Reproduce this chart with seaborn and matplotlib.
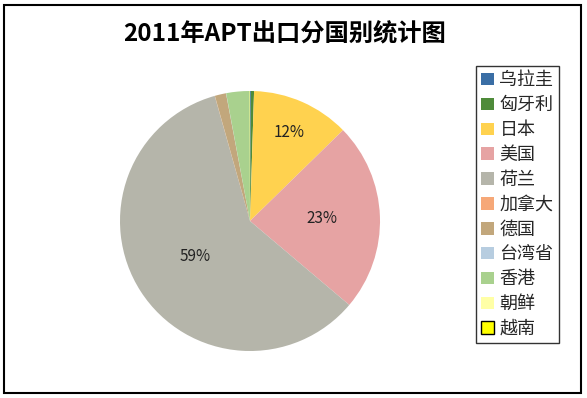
import matplotlib
matplotlib.use("Agg")
import matplotlib.pyplot as plt
import seaborn as sns
import numpy as np
from matplotlib.patches import Rectangle, Patch

# 2011 APT exports by destination (percent share)
countries = ["乌拉圭", "匈牙利", "日本", "美国", "荷兰", "加拿大", "德国", "台湾省", "香港", "朝鲜", "越南"]
shares = [0.1, 0.4, 12.2, 23.5, 59.5, 0.02, 1.4, 0.02, 2.9, 0.02, 0.02]
colors = ["#3A6EA5", "#4E8B3A", "#FFD24F", "#E6A3A3", "#B5B5AA", "#F6A878",
          "#C2A77C", "#B7CDE0", "#A9D18E", "#FFFFA6", "#FFFF00"]
label_dist = [0, 0, 0.74, 0.55, 0.50, 0, 0, 0, 0, 0, 0]

sns.set_theme(style="white")
plt.rcParams["font.family"] = ["Noto Sans CJK SC", "DejaVu Sans"]

W, H = 587, 398
fig = plt.figure(figsize=(W / 100, H / 100), dpi=100)
fig.patch.set_facecolor("white")

# pie centred at (250, 221) px, radius 130 px
cx, cy, r = 250, 221, 130
ax = fig.add_axes([(cx - r) / W, (H - cy - r) / H, 2 * r / W, 2 * r / H])
palette = sns.color_palette(colors)
wedges, texts, autotexts = ax.pie(
    shares, colors=palette, startangle=90, counterclock=False,
    autopct=lambda p: f"{p:.0f}%" if p >= 5 else "",
    pctdistance=0.6, textprops={"fontsize": 11, "color": "#222222", "fontweight": "light"},
    wedgeprops={"linewidth": 0},
)
for w, t, d in zip(wedges, autotexts, label_dist):
    if d:
        ang = np.deg2rad((w.theta1 + w.theta2) / 2)
        t.set_position((d * np.cos(ang), d * np.sin(ang)))
ax.set_xlim(-1, 1)
ax.set_ylim(-1, 1)
ax.axis("off")

fig.text(285 / W, 1 - 33 / H, "2011年APT出口分国别统计图", ha="center", va="center",
         fontsize=17.5, fontweight="bold", color="black")

handles = []
for c, col in zip(countries, palette):
    edge = "black" if c == "越南" else col
    handles.append(Patch(facecolor=col, edgecolor=edge, linewidth=1 if c == "越南" else 0, label=c))
leg = fig.legend(handles=handles, loc="upper left", bbox_to_anchor=(476 / W, 1 - 66 / H),
                 fontsize=13, frameon=True, fancybox=False, handlelength=0.7, handleheight=0.7,
                 handletextpad=0.3, labelspacing=0.38, borderpad=0.3, borderaxespad=0)
leg.get_frame().set_edgecolor("black")
leg.get_frame().set_linewidth(1.0)

fig.patches.append(Rectangle((4 / W, 5 / H), 577 / W, 388 / H, transform=fig.transFigure,
                             fill=False, edgecolor="black", linewidth=1.5))

fig.savefig("out.png", dpi=100)
